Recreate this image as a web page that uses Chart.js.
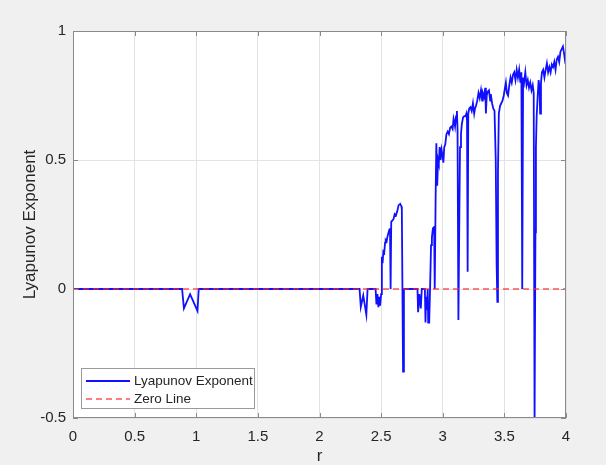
<!DOCTYPE html>
<html>
<head>
<meta charset="utf-8">
<script src="https://cdn.jsdelivr.net/npm/chart.js@4.4.1/dist/chart.umd.min.js"></script>
<style>
  body { margin: 0; background: #f0f0f0; }
  canvas { display: block; }
</style>
</head>
<body>
<canvas id="lyapChart" width="606" height="465"></canvas>
<script>
// r values and Lyapunov exponent
const rValues = [
  0, 0.885, 0.90, 0.95, 1.01, 1.02,
  2.325, 2.335, 2.355, 2.38, 2.39,
  2.455, 2.462, 2.47, 2.478, 2.485, 2.492, 2.50, 2.505,
  2.507, 2.512, 2.518, 2.525, 2.532, 2.537, 2.545, 2.55, 2.558, 2.567, 2.572, 2.577,
  2.582, 2.59, 2.60, 2.61, 2.62, 2.63, 2.642, 2.655, 2.665, 2.668, 2.678, 2.685,
  2.795, 2.80, 2.81, 2.822, 2.83, 2.855, 2.86, 2.865, 2.872, 2.878, 2.882, 2.89, 2.897,
  2.905, 2.912, 2.92, 2.93, 2.935, 2.942, 2.948, 2.955, 2.962, 2.968, 2.975, 2.982, 2.99, 2.997,
  3.005, 3.012, 3.02, 3.03, 3.04, 3.05, 3.06, 3.07, 3.08, 3.088, 3.095, 3.10, 3.108, 3.115, 3.12,
  3.127, 3.135, 3.14, 3.148, 3.155, 3.165, 3.175, 3.185, 3.192, 3.197, 3.202,
  3.207, 3.215, 3.225, 3.235, 3.245, 3.255, 3.262, 3.27, 3.28, 3.29, 3.30, 3.31, 3.32, 3.325,
  3.335, 3.345, 3.35, 3.357, 3.365, 3.375, 3.385, 3.39, 3.40, 3.41, 3.42, 3.43, 3.437, 3.443,
  3.448, 3.455, 3.465, 3.475, 3.485, 3.495, 3.505, 3.512, 3.52, 3.53, 3.54, 3.55, 3.56, 3.57,
  3.58, 3.59, 3.60, 3.61, 3.62, 3.63, 3.638, 3.645, 3.652, 3.66, 3.67, 3.68, 3.69, 3.70,
  3.71, 3.72, 3.73, 3.738, 3.745, 3.752, 3.756, 3.762, 3.77, 3.778, 3.785, 3.79, 3.797,
  3.805, 3.815, 3.825, 3.835, 3.845, 3.855, 3.865, 3.875, 3.885, 3.895, 3.905, 3.915,
  3.925, 3.935, 3.945, 3.955, 3.965, 3.975, 3.985, 3.995, 4.0
];
const lyapValues = [
  0, 0, -0.075, -0.02, -0.085, 0,
  0, -0.07, -0.025, -0.10, 0,
  0, -0.06, -0.02, -0.07, -0.03, -0.065, -0.02, 0,
  0.125, 0.10, 0.145, 0.14, 0.18, 0.19, 0.185, 0.20, 0.215, 0.23, 0.235, 0,
  0.26, 0.265, 0.27, 0.29, 0.285, 0.30, 0.325, 0.33, 0.32, 0.31, -0.32, 0,
  0, -0.09, -0.02, -0.075, 0, 0, -0.13, -0.03, -0.08, 0, -0.13, -0.13, 0,
  0.17, 0.20, 0.235, 0.24, 0, 0.345, 0.565, 0.40, 0.50, 0.487, 0.55, 0.50, 0.54, 0.52,
  0.49, 0.55, 0.56, 0.60, 0.61, 0.60, 0.625, 0.63, 0.62, 0.66, 0.645, 0.63, 0.67, 0.69, 0.62,
  -0.12, 0.30, 0.55, 0.60, 0.64, 0.665, 0.67, 0.67, 0.68, 0.65, 0.067,
  0.68, 0.70, 0.705, 0.69, 0.72, 0.68, 0.70, 0.71, 0.73, 0.76, 0.74, 0.77, 0.73, 0.76,
  0.745, 0.78, 0.68, 0.75, 0.765, 0.77, 0.73, 0.755, 0.72, 0.70, 0.69, 0.50, 0.10, -0.05,
  0.45, 0.68, 0.71, 0.72, 0.73, 0.75, 0.78, 0.80, 0.76, 0.75, 0.79, 0.82, 0.80, 0.83,
  0.84, 0.81, 0.85, 0.82, 0.85, 0.80, 0.84, 0, 0.82, 0.80, 0.84, 0.79, 0.81, 0.78,
  0.80, 0.77, 0.79, 0.76, -0.52, 0.22, 0.55, 0.67, 0.745, 0.81, 0.78, 0.68, 0.80,
  0.84, 0.85, 0.82, 0.85, 0.875, 0.84, 0.86, 0.84, 0.87, 0.86, 0.88, 0.85,
  0.89, 0.90, 0.88, 0.92, 0.93, 0.94, 0.91, 0.875, 0.87
];
const zeroR = [0, 4];
const zeroValues = [0, 0];

const xTicks = [0, 0.5, 1, 1.5, 2, 2.5, 3, 3.5, 4];
const xTickLabels = ["0", "0.5", "1", "1.5", "2", "2.5", "3", "3.5", "4"];
const yTicks = [-0.5, 0, 0.5, 1];
const yTickLabels = ["-0.5", "0", "0.5", "1"];

const seriesLabels = ["Lyapunov Exponent", "Zero Line"];

const textColor = "#262626";
const fontFamily = "'Liberation Sans', Arial, sans-serif";

// gray figure, white axes, box and inward ticks like MATLAB
const axesBox = {
    id: "axesBox",
    beforeDraw(chart) {
        const { ctx, chartArea: a } = chart;
        ctx.save();
        ctx.fillStyle = "#f0f0f0";
        ctx.fillRect(0, 0, chart.width, chart.height);
        ctx.fillStyle = "#ffffff";
        ctx.fillRect(a.left, a.top, a.right - a.left, a.bottom - a.top);
        ctx.restore();
    },
    afterDraw(chart) {
        const { ctx, chartArea: a, scales } = chart;
        ctx.save();
        ctx.strokeStyle = "#8a8a8a";
        ctx.lineWidth = 1;
        ctx.beginPath();
        xTicks.forEach(v => {
            const px = Math.round(scales.x.getPixelForValue(v)) + 0.5;
            ctx.moveTo(px, a.bottom); ctx.lineTo(px, a.bottom - 5);
            ctx.moveTo(px, a.top); ctx.lineTo(px, a.top + 5);
        });
        yTicks.forEach(v => {
            const py = Math.round(scales.y.getPixelForValue(v)) + 0.5;
            ctx.moveTo(a.left, py); ctx.lineTo(a.left + 5, py);
            ctx.moveTo(a.right, py); ctx.lineTo(a.right - 5, py);
        });
        ctx.stroke();
        ctx.strokeRect(Math.round(a.left) + 0.5, Math.round(a.top) + 0.5,
            Math.round(a.right - a.left) - 1, Math.round(a.bottom - a.top) - 1);

        // legend box, lower left
        const lx = 81, ly = 368, lw = 173, lh = 40;
        ctx.fillStyle = "#ffffff";
        ctx.fillRect(lx, ly, lw, lh);
        ctx.strokeStyle = "#9a9a9a";
        ctx.strokeRect(lx + 0.5, ly + 0.5, lw, lh);
        const ds = chart.data.datasets;
        const rows = [381, 399];
        ds.forEach((d, i) => {
            const y = rows[i];
            ctx.beginPath();
            ctx.strokeStyle = d.borderColor;
            ctx.lineWidth = d.borderWidth;
            ctx.setLineDash(d.borderDash || []);
            ctx.moveTo(86, y); ctx.lineTo(130, y);
            ctx.stroke();
            ctx.setLineDash([]);
            ctx.fillStyle = textColor;
            ctx.font = "13.5px " + fontFamily;
            ctx.textBaseline = "middle";
            ctx.fillText(d.label, 134, y);
        });
        ctx.restore();
    }
};

document.addEventListener("DOMContentLoaded", () => {
    const ctx = document.getElementById("lyapChart").getContext("2d");

    new Chart(ctx, {
        type: "line",
        data: {
            datasets: [{
                label: seriesLabels[0],
                data: rValues.map((r, i) => ({ x: r, y: lyapValues[i] })),
                borderColor: "#1010ff",
                borderWidth: 1.8,
                pointRadius: 0,
                tension: 0,
                fill: false,
                order: 2
            }, {
                label: seriesLabels[1],
                data: zeroR.map((r, i) => ({ x: r, y: zeroValues[i] })),
                borderColor: "rgba(255, 40, 40, 0.8)",
                borderWidth: 1.5,
                borderDash: [6, 4],
                pointRadius: 0,
                fill: false,
                order: 1
            }]
        },
        options: {
            responsive: false,
            animation: false,
            layout: { padding: { top: 31, right: 40, left: 0, bottom: 0 } },
            scales: {
                x: {
                    type: "linear",
                    min: 0,
                    max: 4,
                    afterFit: s => { s.height = 47; },
                    afterBuildTicks: s => { s.ticks = xTicks.map(v => ({ value: v })); },
                    grid: { color: "#e3e3e3", drawTicks: false },
                    border: { display: false },
                    ticks: {
                        color: textColor,
                        padding: 10,
                        maxRotation: 0,
                        font: { family: fontFamily, size: 15 },
                        callback: (v, i) => xTickLabels[i]
                    },
                    title: {
                        display: true,
                        text: "r",
                        color: textColor,
                        font: { family: fontFamily, size: 17 },
                        padding: { top: 0, bottom: -2 }
                    }
                },
                y: {
                    min: -0.5,
                    max: 1,
                    afterFit: s => { s.width = 73; },
                    afterBuildTicks: s => { s.ticks = yTicks.map(v => ({ value: v })); },
                    grid: { color: "#e3e3e3", drawTicks: false },
                    border: { display: false },
                    ticks: {
                        color: textColor,
                        padding: 7,
                        font: { family: fontFamily, size: 15 },
                        callback: (v, i) => yTickLabels[i]
                    },
                    title: {
                        display: true,
                        text: "Lyapunov Exponent",
                        color: textColor,
                        font: { family: fontFamily, size: 17 },
                        padding: { top: 20, bottom: 0 }
                    }
                }
            },
            plugins: {
                legend: { display: false },
                tooltip: { enabled: false }
            }
        },
        plugins: [axesBox]
    });
});
</script>
</body>
</html>
